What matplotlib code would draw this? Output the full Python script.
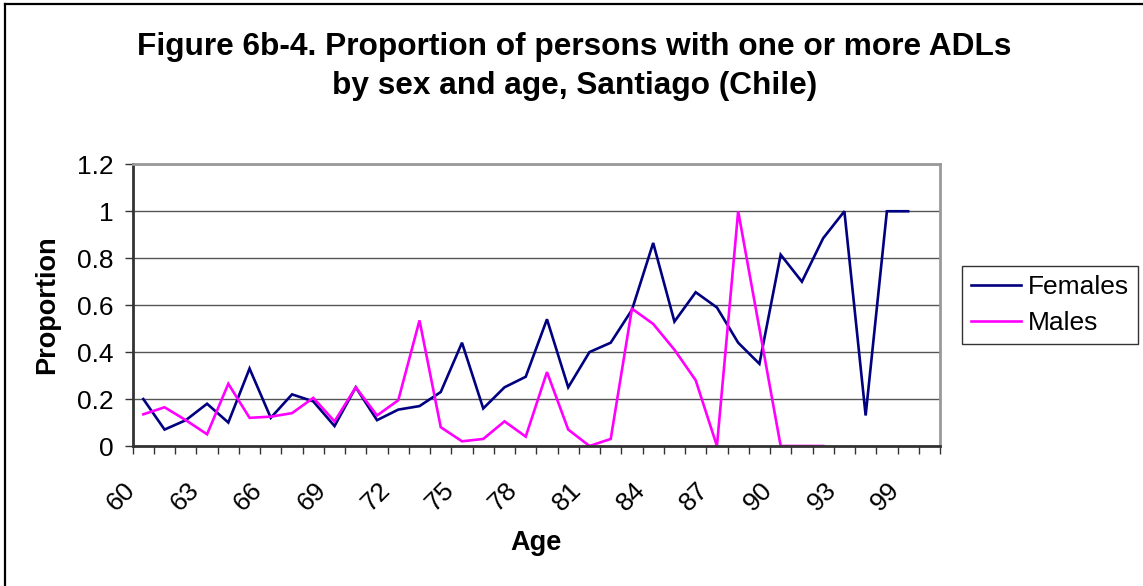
import numpy as np
import matplotlib
matplotlib.use("Agg")
import matplotlib.pyplot as plt
from matplotlib.lines import Line2D
from matplotlib.transforms import ScaledTranslation

plt.rcParams['font.family'] = ['Liberation Sans', 'DejaVu Sans']

# Age categories (one slot per category on the x axis)
ages = list(range(60, 94)) + [94, 96, 99, 100]
tick_ages = [60, 63, 66, 69, 72, 75, 78, 81, 84, 87, 90, 93, 99]

females = [0.20, 0.07, 0.11, 0.18, 0.10, 0.33, 0.12, 0.22, 0.19, 0.085,
           0.25, 0.11, 0.155, 0.17, 0.23, 0.44, 0.16, 0.25, 0.295, 0.54,
           0.25, 0.40, 0.44, 0.58, 0.865, 0.53, 0.655, 0.59, 0.44, 0.35,
           0.815, 0.70, 0.885, 1.0, 0.13, 1.0, 1.0, np.nan]
males = [0.135, 0.165, 0.11, 0.05, 0.265, 0.12, 0.125, 0.14, 0.205, 0.105,
         0.25, 0.13, 0.195, 0.535, 0.08, 0.02, 0.03, 0.105, 0.04, 0.315,
         0.07, 0.0, 0.03, 0.585, 0.52, 0.41, 0.28, 0.0, 1.0, 0.5,
         0.0, 0.0, 0.0, np.nan, np.nan, np.nan, np.nan, np.nan]

W, H = 1143, 586
fig = plt.figure(figsize=(W / 100, H / 100), dpi=100)

# outer chart border (left and top edges visible)
fig.add_artist(Line2D([4.5 / W, 4.5 / W], [0, 1 - 3.5 / H], color='black', lw=1.6,
                      transform=fig.transFigure))
fig.add_artist(Line2D([4.5 / W, 1], [1 - 3.5 / H, 1 - 3.5 / H], color='black', lw=1.6,
                      transform=fig.transFigure))

ax = fig.add_axes([132.7 / W, 1 - 446 / H, (940 - 132.7) / W, (446 - 164.3) / H])

n = len(ages)
x = np.arange(n) + 0.5
ax.plot(x, females, color='#000080', lw=1.9, label='Females', solid_joinstyle='miter')
ax.plot(x, males, color='#FF00FF', lw=1.9, label='Males', solid_joinstyle='miter')

ax.set_xlim(0, n)
ax.set_ylim(0, 1.2)
ax.set_yticks(np.arange(0, 1.21, 0.2))
ax.set_yticklabels(['0', '0.2', '0.4', '0.6', '0.8', '1', '1.2'], fontsize=19)
ax.yaxis.grid(True, color='#555555', lw=1.0)
ax.set_axisbelow(True)

# category boundary ticks, labels every third category
ax.set_xticks(np.arange(n + 1))
ax.set_xticklabels([])
ax.tick_params(axis='both', which='major', direction='out', length=6, width=1.0, color='#333333')
ax.tick_params(axis='y', pad=8)
label_pos = [ages.index(a) + 0.5 for a in tick_ages]
ax.set_xticks(label_pos, minor=True)
ax.set_xticklabels([str(a) for a in tick_ages], minor=True, fontsize=19,
                   rotation=45, ha='right', va='center', rotation_mode='anchor')
ax.tick_params(axis='x', which='minor', length=0, pad=29)
shift = ScaledTranslation(-12 / 100, 0, fig.dpi_scale_trans)
for lbl in ax.get_xticklabels(minor=True):
    lbl.set_transform(lbl.get_transform() + shift)

for side in ['left', 'bottom']:
    ax.spines[side].set_color('#333333')
    ax.spines[side].set_linewidth(2.0)
for side in ['top', 'right']:
    ax.spines[side].set_color('#999999')
    ax.spines[side].set_linewidth(2.0)

ax.set_xlabel('Age', fontsize=19.5, fontweight='bold')
ax.xaxis.set_label_coords(0.5, (446 - 543) / (446 - 164.3))
ax.xaxis.label.set_va('center')
ax.set_ylabel('Proportion', fontsize=19.5, fontweight='bold')
ax.yaxis.set_label_coords((47 - 132.7) / (940 - 132.7), 0.5)
ax.yaxis.label.set_va('center')

fig.text(0.5025, 1 - 66.5 / H, 'Figure 6b-4. Proportion of persons with one or more ADLs\nby sex and age, Santiago (Chile)',
         ha='center', va='center', fontsize=22.8, fontweight='bold', linespacing=1.42)

leg = ax.legend(loc='upper left', bbox_to_anchor=(961.7 / W, 1 - 265.7 / H),
                bbox_transform=fig.transFigure, fontsize=19, frameon=True,
                fancybox=False, edgecolor='black', handlelength=1.9,
                handletextpad=0.25, borderpad=0.35, labelspacing=0.45,
                borderaxespad=0)
leg.get_frame().set_linewidth(1.0)

fig.savefig('out.png', dpi=100, facecolor='white')
